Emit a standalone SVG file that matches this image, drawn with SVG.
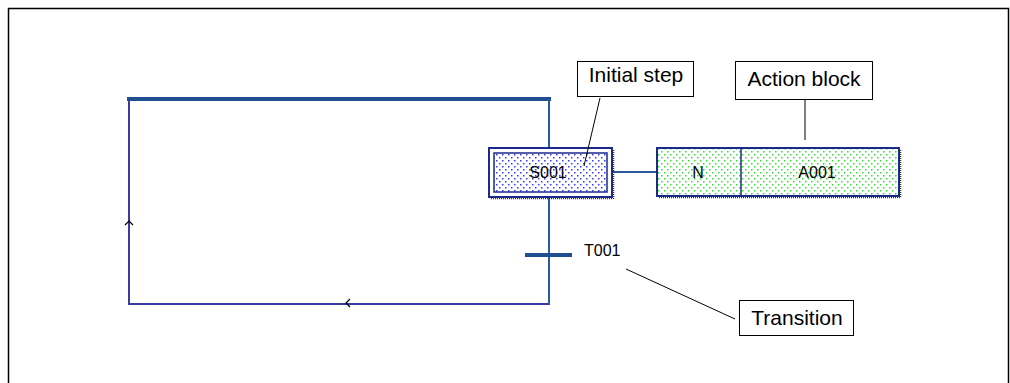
<svg xmlns="http://www.w3.org/2000/svg" width="1010" height="383" viewBox="0 0 1010 383">
<style>
.lbl{font-family:"Liberation Sans",Arial,sans-serif;font-size:21px;fill:#000}
.sm{font-family:"Liberation Sans",Arial,sans-serif;font-size:16px;fill:#000}
.call{fill:#fff;stroke:#000;stroke-width:1}
.lead{stroke:#000;stroke-width:1;fill:none}
.wire{stroke:#3a3aa0;stroke-width:2;fill:none}
</style>
<defs>
<pattern id="bdots" width="6" height="6" patternUnits="userSpaceOnUse">
<rect width="6" height="6" fill="#fff"/>
<rect x="1" y="1" width="1.5" height="1.5" fill="#3a3aff"/>
<rect x="4" y="4" width="1.5" height="1.5" fill="#3a3aff"/>
</pattern>
<pattern id="gdots" width="6" height="6" patternUnits="userSpaceOnUse">
<rect width="6" height="6" fill="#fff"/>
<rect x="1" y="1" width="1.5" height="1.5" fill="#33dd33"/>
<rect x="4" y="4" width="1.5" height="1.5" fill="#33dd33"/>
</pattern>
</defs>
<rect x="0" y="0" width="1010" height="383" fill="#fff"/>
<path d="M8.5 390 V8.5 H1008.5 V390" fill="none" stroke="#000" stroke-width="1.5"/>

<g id="connectors">
<line x1="127" y1="99" x2="551" y2="99" stroke="#1f4f8f" stroke-width="4"/>
<line x1="129" y1="99" x2="129" y2="304" class="wire"/>
<line x1="128" y1="304" x2="550" y2="304" class="wire"/>
<line x1="549" y1="99" x2="549" y2="304" stroke="#2a5a9a" stroke-width="2"/>
<line x1="612" y1="172" x2="657" y2="172" stroke="#2a5a9a" stroke-width="2"/>
<path d="M125 225 L129 221 L133 225" fill="none" stroke="#000" stroke-width="1.2"/>
<path d="M350 299 L346 303 L350 307" fill="none" stroke="#000" stroke-width="1.2"/>
</g>

<g id="step-S001">
<rect x="489" y="148" width="123" height="49" fill="#fff" stroke="#1a2a8a" stroke-width="2"/>
<rect x="494" y="153" width="113" height="39" fill="url(#bdots)" stroke="#1a2a8a" stroke-width="1.5"/>
<line x1="491" y1="198.5" x2="613" y2="198.5" stroke="#333" stroke-width="1.5" stroke-dasharray="1 1"/>
<line x1="613.5" y1="150" x2="613.5" y2="199" stroke="#333" stroke-width="1.5" stroke-dasharray="1 1"/>
<text x="548" y="178" text-anchor="middle" class="sm">S001</text>
</g>

<g id="action-block">
<rect x="657" y="148" width="242" height="48" fill="url(#gdots)" stroke="#1a2a8a" stroke-width="2"/>
<line x1="741" y1="149" x2="741" y2="195" stroke="#1a2a8a" stroke-width="1.5"/>
<line x1="659" y1="197.5" x2="901" y2="197.5" stroke="#333" stroke-width="1.5" stroke-dasharray="1 1"/>
<line x1="900.5" y1="150" x2="900.5" y2="198" stroke="#333" stroke-width="1.5" stroke-dasharray="1 1"/>
<text x="698" y="178" text-anchor="middle" class="sm">N</text>
<text x="817" y="178" text-anchor="middle" class="sm">A001</text>
</g>

<g id="transition-T001">
<line x1="525" y1="255" x2="572" y2="255" stroke="#1f4f8f" stroke-width="4"/>
<text x="584" y="256" class="sm">T001</text>
</g>

<g id="callout-initial-step">
<rect x="577.5" y="61.5" width="116" height="35" class="call"/>
<text x="636" y="82" text-anchor="middle" class="lbl">Initial step</text>
<line x1="600" y1="98" x2="584" y2="166" class="lead"/>
</g>

<g id="callout-action-block">
<rect x="735.5" y="61.5" width="137" height="38" class="call"/>
<text x="804" y="86" text-anchor="middle" class="lbl">Action block</text>
<line x1="805" y1="100" x2="805" y2="140" class="lead"/>
</g>

<g id="callout-transition">
<rect x="739.5" y="300.5" width="114" height="35" class="call"/>
<text x="797" y="325" text-anchor="middle" class="lbl">Transition</text>
<line x1="626" y1="269" x2="735" y2="319" class="lead"/>
</g>
</svg>
